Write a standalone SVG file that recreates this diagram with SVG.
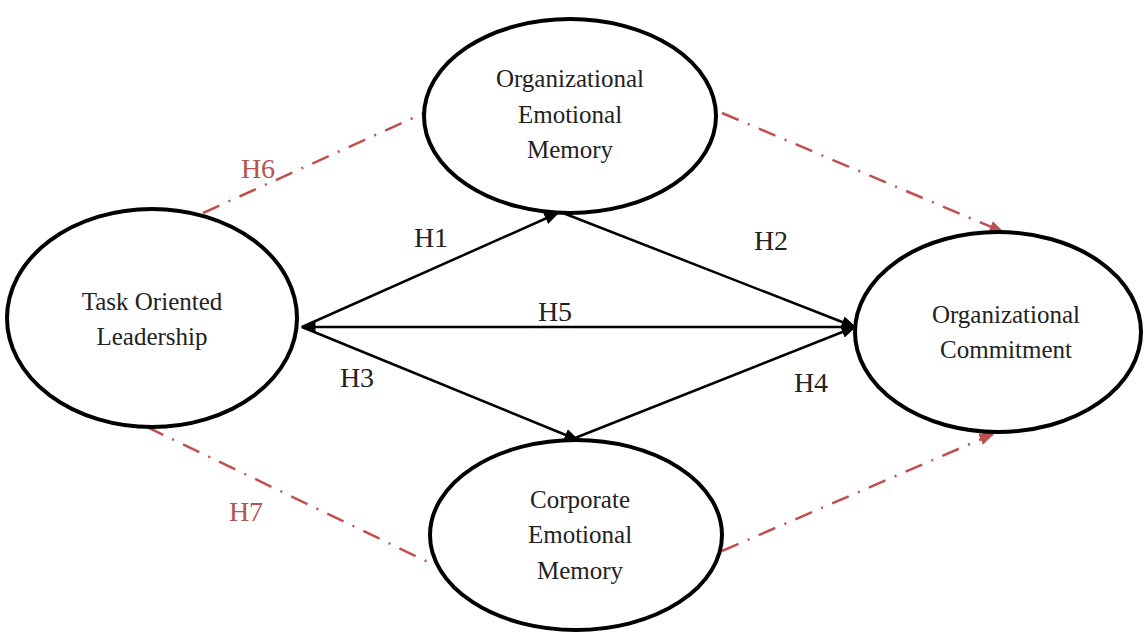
<svg xmlns="http://www.w3.org/2000/svg" width="1148" height="633" viewBox="0 0 1148 633">
<style>
.node{fill:#fff;stroke:#000;stroke-width:4}
.nt{font-family:"Liberation Serif",serif;font-size:25px;fill:#222;text-anchor:middle}
.lb{font-family:"Liberation Serif",serif;font-size:28px;fill:#222;text-anchor:middle}
.lr{font-family:"Liberation Serif",serif;font-size:28px;fill:#b5534f;text-anchor:middle}
.solid{stroke:#000;stroke-width:2.5;fill:none}
.dash{stroke:#c0504d;stroke-width:2.5;fill:none;stroke-dasharray:18 10 2 10}
</style>
<defs>
<marker id="ab" viewBox="0 0 10 10" refX="9" refY="5" markerWidth="6" markerHeight="6" orient="auto-start-reverse" markerUnits="strokeWidth"><path d="M0,1 L10,5 L0,9 z" fill="#000"/></marker>
<marker id="ar" viewBox="0 0 10 10" refX="9" refY="5" markerWidth="6" markerHeight="6" orient="auto" markerUnits="strokeWidth"><path d="M0,1 L10,5 L0,9 z" fill="#c0504d"/></marker>
</defs>
<g id="connectors">
<line class="solid" x1="302" y1="327" x2="558" y2="213" marker-end="url(#ab)"/>
<line class="solid" x1="302" y1="327" x2="855" y2="327" marker-start="url(#ab)" marker-end="url(#ab)"/>
<line class="solid" x1="302" y1="327" x2="578" y2="440" marker-end="url(#ab)"/>
<line class="solid" x1="563" y1="213" x2="855" y2="327" marker-end="url(#ab)"/>
<line class="solid" x1="570" y1="440" x2="855" y2="327" marker-end="url(#ab)"/>
<line class="dash" x1="203" y1="213" x2="424" y2="113"/>
<line class="dash" x1="722" y1="113" x2="1003" y2="232" marker-end="url(#ar)"/>
<line class="dash" x1="147" y1="427" x2="428" y2="562"/>
<line class="dash" x1="722" y1="551" x2="993" y2="434" marker-end="url(#ar)"/>
<text class="lr" x="258" y="178">H6</text>
<text class="lb" x="431" y="247">H1</text>
<text class="lb" x="771" y="250">H2</text>
<text class="lb" x="555" y="321">H5</text>
<text class="lb" x="357" y="387">H3</text>
<text class="lb" x="811" y="392">H4</text>
<text class="lr" x="246" y="521">H7</text>
</g>
<g id="tol">
<ellipse class="node" cx="152" cy="318" rx="145" ry="109"/>
<text class="nt" x="152" y="310">Task Oriented</text>
<text class="nt" x="152" y="345">Leadership</text>
</g>
<g id="oem">
<ellipse class="node" cx="570" cy="116" rx="146" ry="97"/>
<text class="nt" x="570" y="87">Organizational</text>
<text class="nt" x="570" y="123">Emotional</text>
<text class="nt" x="570" y="158">Memory</text>
</g>
<g id="oc">
<ellipse class="node" cx="998" cy="332" rx="143" ry="100"/>
<text class="nt" x="1006" y="323">Organizational</text>
<text class="nt" x="1006" y="358">Commitment</text>
</g>
<g id="cem">
<ellipse class="node" cx="576" cy="535" rx="146" ry="95"/>
<text class="nt" x="580" y="508">Corporate</text>
<text class="nt" x="580" y="543">Emotional</text>
<text class="nt" x="580" y="579">Memory</text>
</g>
</svg>
